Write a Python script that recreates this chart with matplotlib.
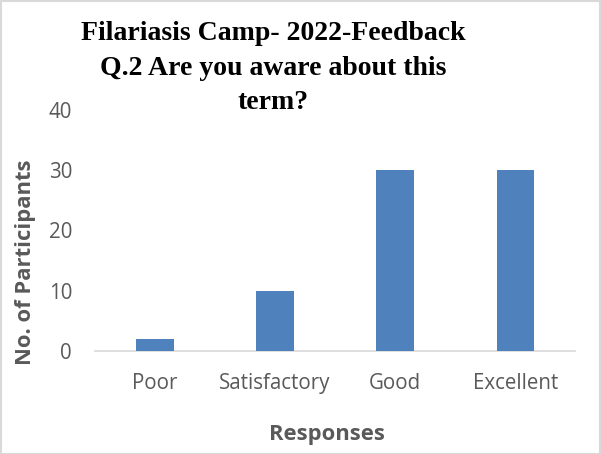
import matplotlib.pyplot as plt
import matplotlib
import numpy as np

matplotlib.rcParams['font.family'] = 'Open Sans'

responses = ['Poor', 'Satisfactory', 'Good', 'Excellent']
participants = [2, 10, 30, 30]
yticks = [0, 10, 20, 30, 40]

fig = plt.figure(figsize=(6.01, 4.54), dpi=100)
ax = fig.add_axes([0.158, 0.227, 0.799, 0.531])

x = np.arange(len(responses))
ax.bar(x, participants, width=0.31, color='#4F81BD', zorder=3)

ax.set_xlim(-0.5, len(responses) - 0.5)
ax.set_ylim(0, 40)
ax.set_yticks(yticks)
ax.set_xticks(x)
ax.set_xticklabels(responses)
ax.tick_params(length=0, labelsize=14.8, labelcolor='#595959')
ax.tick_params(axis='y', pad=16.5)
ax.tick_params(axis='x', pad=16)

for s in ['top', 'right', 'left']:
    ax.spines[s].set_visible(False)
ax.spines['bottom'].set_color('#D9D9D9')
ax.spines['bottom'].set_linewidth(1.2)

fig.text(0.042, 0.423, 'No. of Participants', rotation=90, ha='center', va='center',
         fontsize=15.8, fontweight='bold', color='#595959')
fig.text(0.544, 0.042, 'Responses', ha='center', va='center',
         fontsize=15.8, fontweight='bold', color='#595959')

fig.text(0.454, 0.85, 'Filariasis Camp- 2022-Feedback\nQ.2 Are you aware about this\nterm?',
         ha='center', va='center', fontsize=20, fontweight='bold', color='black',
         family='Liberation Serif', linespacing=1.52)

# thin frame round the whole chart
fig.patches.append(matplotlib.patches.Rectangle((0.001, 0.001), 0.997, 0.997, transform=fig.transFigure,
                                                fill=False, edgecolor='#D9D9D9', linewidth=1.5))

plt.savefig('out.png', dpi=100)
